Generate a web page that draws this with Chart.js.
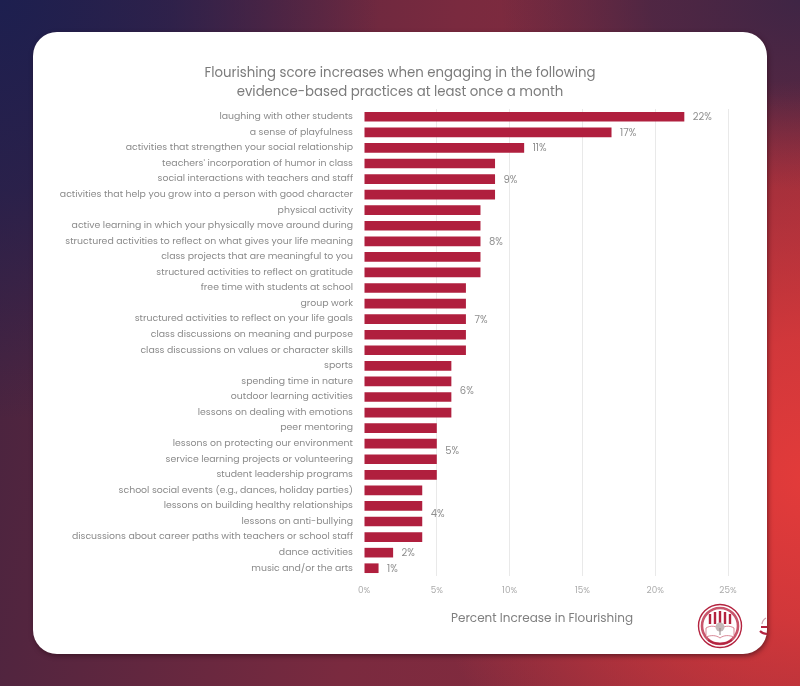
<!DOCTYPE html>
<html>
<head>
<meta charset="utf-8">
<style>
  html, body { margin: 0; padding: 0; width: 800px; height: 686px; overflow: hidden; }
  body {
    position: relative;
    background:
      radial-gradient(ellipse 400px 400px at 810px 480px, #e33b3a 0%, rgba(226,58,58,0.8) 35%, rgba(226,58,58,0) 100%),
      radial-gradient(ellipse 300px 190px at 800px 0px, #3f2545 0%, rgba(63,37,69,0.75) 50%, rgba(63,37,69,0) 100%),
      radial-gradient(ellipse 380px 420px at 0px 0px, #1d1f4f 0%, rgba(29,31,79,0.7) 45%, rgba(29,31,79,0) 100%),
      linear-gradient(100deg, #43233f 0%, #7a2a3f 50%, #8f2c3c 100%);
  }
  #card {
    position: absolute; left: 33px; top: 32px; width: 734px; height: 622px;
    background: #fff; border-radius: 24px;
    box-shadow: 1px 2px 5px rgba(40, 10, 20, 0.55);
  }
  #myChart { position: absolute; left: 0; top: 0; }
  .logo { position: absolute; left: 697px; top: 603px; }
  .logo2 { position: absolute; left: 757px; top: 616px; }
</style>
</head>
<body>
<div id="card"></div>
<canvas id="myChart" width="800" height="686"></canvas>
<svg class="logo" width="46" height="46" viewBox="0 0 46 46">
  <circle cx="23" cy="23" r="21.5" fill="#fff" stroke="#b4233f" stroke-width="1.4"/>
  <circle cx="23" cy="23" r="18" fill="none" stroke="#c9566c" stroke-width="2.6"/>
  <path d="M13 11v10M18 9v12M23 8v13M28 9v12M33 11v10" stroke="#b4233f" stroke-width="2.4"/>
  <path d="M9 25c5-3 10-2 14 1 4-3 9-4 14-1v9c-5-2-10-2-14 1-4-3-9-3-14-1z" fill="#fff" stroke="#c9566c" stroke-width="0.7"/>
  <circle cx="23" cy="24" r="4.5" fill="#c4b8b8"/>
  <path d="M23 25v7" stroke="#9a8c8c" stroke-width="1.1"/>
  <path d="M11 37c7 5 17 5 24 0" fill="none" stroke="#b4233f" stroke-width="2"/>
</svg>
<svg class="logo2" width="10" height="20" viewBox="0 0 10 20">
  <path d="M9 2a8 8 0 0 0-4 6" fill="none" stroke="#c9a0a8" stroke-width="1.2"/>
  <path d="M4 11h6M3 15c2 2 4 3 7 3" fill="none" stroke="#b4233f" stroke-width="2.2"/>
</svg>
<script src="https://cdn.jsdelivr.net/npm/chart.js@4"></script>
<script>
const practices = [
  "laughing with other students",
  "a sense of playfulness",
  "activities that strengthen your social relationship",
  "teachers' incorporation of humor in class",
  "social interactions with teachers and staff",
  "activities that help you grow into a person with good character",
  "physical activity",
  "active learning in which your physically move around during",
  "structured activities to reflect on what gives your life meaning",
  "class projects that are meaningful to you",
  "structured activities to reflect on gratitude",
  "free time with students at school",
  "group work",
  "structured activities to reflect on your life goals",
  "class discussions on meaning and purpose",
  "class discussions on values or character skills",
  "sports",
  "spending time in nature",
  "outdoor learning activities",
  "lessons on dealing with emotions",
  "peer mentoring",
  "lessons on protecting our environment",
  "service learning projects or volunteering",
  "student leadership programs",
  "school social events (e.g., dances, holiday parties)",
  "lessons on building healthy relationships",
  "lessons on anti-bullying",
  "discussions about career paths with teachers or school staff",
  "dance activities",
  "music and/or the arts",
];
const increase = [22, 17, 11, 9, 9, 9, 8, 8, 8, 8, 8, 7, 7, 7, 7, 7, 6, 6, 6, 6, 5, 5, 5, 5, 4, 4, 4, 4, 2, 1];
// only some bars carry a label in the original
const labelledRows = [0, 1, 2, 4, 8, 13, 18, 22, 26, 28, 29];
const titleLines = [
  "Flourishing score increases when engaging in the following",
  "evidence-based practices at least once a month",
];
const axisTitle = "Percent Increase in Flourishing";

const font = "Poppins, Lato, 'Open Sans', sans-serif";

// titles are drawn here because the built-in ones centre on the wrong box
const sparseLabels = {
  id: "sparseLabels",
  afterDatasetsDraw(chart) {
    const { ctx, scales } = chart;
    ctx.save();
    ctx.font = "10px " + font;
    ctx.fillStyle = "#8f8f8f";
    ctx.textBaseline = "middle";
    labelledRows.forEach((row) => {
      const x = scales.x.getPixelForValue(increase[row]) + 8.5;
      // the 6%, 5% and 4% labels sit a little above their bars
      const nudge = row === 22 ? -8 : row === 26 ? -7 : row === 18 ? -5 : 1;
      const y = scales.y.getPixelForValue(row) + nudge;
      ctx.fillText(increase[row] + "%", x, y);
    });
    ctx.textAlign = "center";
    ctx.font = "12px " + font;
    ctx.fillStyle = "#7f7f7f";
    ctx.fillText(axisTitle, (scales.x.left + scales.x.right) / 2 - 4, scales.x.top + 43);
    ctx.font = "13.3px " + font;
    ctx.fillStyle = "#7b7b7b";
    titleLines.forEach((line, i) => ctx.fillText(line, chart.width / 2, 74 + i * 18.5));
    ctx.restore();
  },
};

new Chart(document.getElementById("myChart"), {
  type: "bar",
  data: {
    labels: practices,
    datasets: [
      {
        data: increase,
        backgroundColor: "#b01f3e",
        categoryPercentage: 1,
        barPercentage: 0.62,
      },
    ],
  },
  options: {
    indexAxis: "y",
    responsive: false,
    animation: false,
    layout: { padding: { top: 109, right: 72, bottom: 80 } },
    plugins: {
      legend: { display: false },
      tooltip: { enabled: false },
    },
    scales: {
      x: {
        min: 0,
        max: 25,
        border: { display: false },
        afterFit: (scale) => { scale.height = 30; },
        grid: {
          drawTicks: false,
          color: (c) => (c.tick.value === 0 ? "transparent" : "#e9e9e9"),
        },
        ticks: {
          stepSize: 5,
          padding: 10,
          color: "#ababab",
          font: { family: font, size: 8.8 },
          callback: (v) => v + "%",
          maxRotation: 0,
        },
      },
      y: {
        border: { display: false },
        grid: { display: false },
        afterFit: (scale) => { scale.width = 364; },
        ticks: {
          autoSkip: false,
          padding: 3,
          color: "#8a8a8a",
          font: { family: font, size: 9.35 },
        },
      },
    },
  },
  plugins: [sparseLabels],
});
</script>
</body>
</html>
